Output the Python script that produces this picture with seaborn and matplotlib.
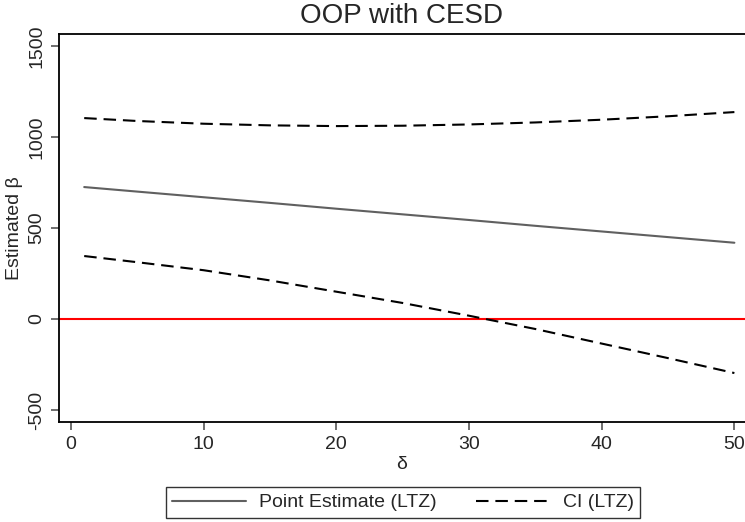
import pandas as pd
import matplotlib.pyplot as plt
import seaborn as sns

# values
delta = [1, 5, 10, 15, 20, 25, 30, 35, 40, 45, 50]
point_est = [725, 700, 669, 638, 606, 575, 544, 512, 481, 450, 419]
ci_upper = [1104, 1088, 1073, 1064, 1060, 1062, 1069, 1080, 1095, 1114, 1137]
ci_lower = [346, 312, 268, 212, 150, 88, 18, -55, -135, -215, -297]
y_ticks = [-500, 0, 500, 1000, 1500]
x_ticks = [0, 10, 20, 30, 40, 50]


def main():
    sns.set_theme(style='white')
    plt.rcParams['font.family'] = ['Liberation Sans', 'DejaVu Sans']
    plt.rcParams['axes.unicode_minus'] = False

    df = pd.DataFrame({'delta': delta, 'point': point_est,
                       'upper': ci_upper, 'lower': ci_lower})

    fig = plt.figure(figsize=(7.45, 5.22), dpi=100)
    ax = fig.add_axes([59 / 745, 1 - 422 / 522, 1 - 59 / 745, (422 - 34) / 522])

    ax.axhline(0, color='red', lw=1.5, zorder=1)
    sns.lineplot(data=df, x='delta', y='point', ax=ax, color='#606060',
                 lw=1.5, label='Point Estimate (LTZ)')
    dash = (0, (6, 3.3))
    sns.lineplot(data=df, x='delta', y='upper', ax=ax, color='black',
                 lw=1.5, linestyle=dash, label='CI (LTZ)')
    sns.lineplot(data=df, x='delta', y='lower', ax=ax, color='black',
                 lw=1.5, linestyle=dash)

    ax.set_xlim(-0.9, 50.8)
    ax.set_ylim(-566, 1566)
    ax.set_xticks(x_ticks)
    ax.set_yticks(y_ticks)
    ax.tick_params(axis='both', which='both', direction='out', length=6,
                   width=1.2, color='#555555', labelsize=14, pad=4,
                   left=True, bottom=True)
    for lab in ax.get_yticklabels():
        lab.set_rotation(90)
        lab.set_va('center')

    ax.set_xlabel('δ', fontsize=14, labelpad=2)
    ax.set_ylabel('Estimated β', fontsize=14, labelpad=4)
    ax.set_title('OOP with CESD', fontsize=20, pad=8)

    for side in ['left', 'top', 'bottom']:
        ax.spines[side].set_color('black')
        ax.spines[side].set_linewidth(1.3)
    ax.spines['right'].set_visible(False)

    handles, labels = ax.get_legend_handles_labels()
    ax.get_legend().remove()
    leg = fig.legend(handles, labels, loc='upper center', ncol=2,
                     bbox_to_anchor=(403 / 745, 1 - 487 / 522), fontsize=14,
                     frameon=True, fancybox=False, edgecolor='black',
                     handlelength=3.8, handletextpad=0.67, columnspacing=2.0,
                     borderpad=0.35, borderaxespad=0)
    leg.get_frame().set_linewidth(1.0)

    fig.savefig('out.png', dpi=100)
    plt.close(fig)


if __name__ == '__main__':
    main()
